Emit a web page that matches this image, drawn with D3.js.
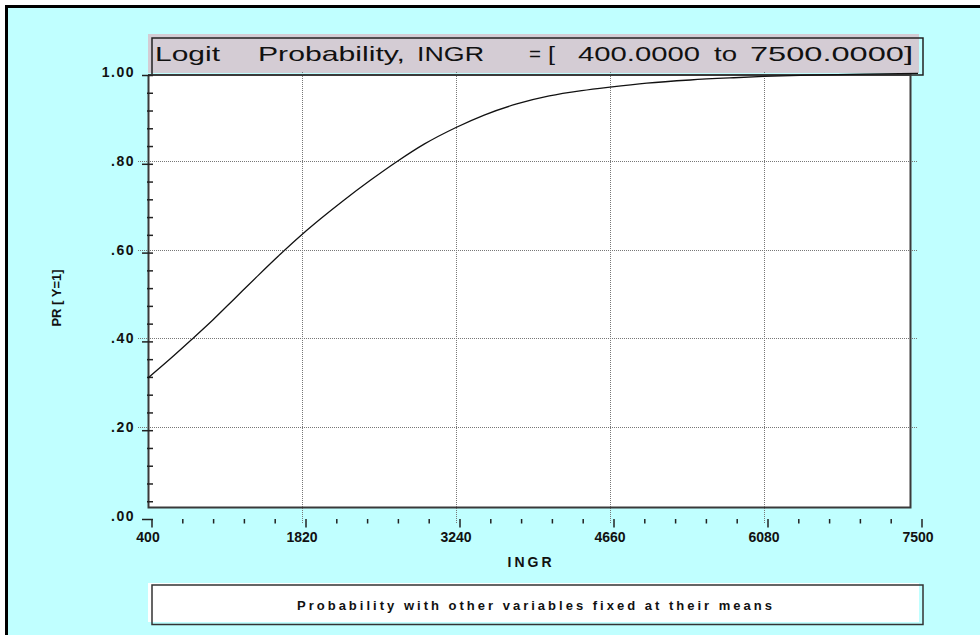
<!DOCTYPE html>
<html>
<head>
<meta charset="utf-8">
<script src="https://cdn.jsdelivr.net/npm/d3@7"></script>
<style>
  body { margin: 0; background: #fff; }
  svg { display: block; font-family: "Liberation Sans", Arial, sans-serif; }
</style>
</head>
<body>
<svg id="chart" width="980" height="635"></svg>
<script>
// values: INGR vs Prob[Y=1]
var ingr = [400, 600, 800, 1000, 1200, 1400, 1600, 1820, 2000, 2200, 2450, 2700, 2950,
            3240, 3500, 3800, 4100, 4400, 4660, 5000, 5400, 5800, 6080, 6500, 7000, 7500];
var prob = [.311, .353, .397, .442, .490, .538, .585, .634, .671, .710, .756, .799, .838,
            .875, .903, .928, .946, .958, .966, .975, .982, .987, .990, .993, .995, .997];

var xTicks = [400, 1820, 3240, 4660, 6080, 7500];
var yTicks = [0, .2, .4, .6, .8, 1];
var yLabels = [".00", ".20", ".40", ".60", ".80", "1.00"];
var titleParts = ["Logit", "Probability,", "INGR", "=", "[", "400.0000", "to", "7500.0000]"];
var yTitle = "PR [ Y=1]";
var xTitle = "INGR";
var footnote = "Probability with other variables fixed at their means";

var svg = d3.select("#chart");

// frame
svg.append("rect").attr("x", 0).attr("y", 0).attr("width", 980).attr("height", 635).attr("fill", "#fff");
svg.append("rect").attr("x", 6.5).attr("y", 6.5).attr("width", 990).attr("height", 650)
  .attr("fill", "#c0ffff").attr("stroke", "#000").attr("stroke-width", 3);

// scales: grid and curve use x/y, the tick marks sit a few px off (like the original)
var x = d3.scaleLinear().domain([400, 7500]).range([148, 918]);
var y = d3.scaleLinear().domain([0, 1]).range([516, 72]);
var xa = d3.scaleLinear().domain([400, 7500]).range([152, 922]);
var ya = d3.scaleLinear().domain([0, 1]).range([519.5, 75.5]);

// plot area
svg.append("rect").attr("x", 148).attr("y", 75).attr("width", 762).attr("height", 432)
  .attr("fill", "#fff");

// title box
svg.append("rect").attr("x", 148).attr("y", 34).attr("width", 771).attr("height", 39).attr("fill", "#d4ccd4");
svg.append("rect").attr("x", 152).attr("y", 38).attr("width", 771).attr("height", 37)
  .attr("fill", "none").attr("stroke", "#222").attr("stroke-width", 1.5);

var titlePos = [[155, 65], [258, 147], [417, 67], [529, 12], [548, 7], [578, 122], [714, 23], [750, 163]];
svg.append("g").selectAll("text").data(titleParts).enter().append("text")
  .attr("x", function(d, i) { return titlePos[i][0]; })
  .attr("y", 61)
  .attr("textLength", function(d, i) { return titlePos[i][1]; })
  .attr("lengthAdjust", "spacingAndGlyphs")
  .attr("font-size", 21)
  .attr("fill", "#111")
  .text(function(d) { return d; });

// grid
var grid = svg.append("g").attr("stroke", "#777").attr("stroke-width", 1).attr("stroke-dasharray", "1,1");
grid.selectAll("line.v").data(xTicks.slice(1, -1)).enter().append("line")
  .attr("x1", function(d) { return Math.round(x(d)) + 0.5; })
  .attr("x2", function(d) { return Math.round(x(d)) + 0.5; })
  .attr("y1", 72).attr("y2", 523);
grid.selectAll("line.h").data(yTicks.slice(1, -1)).enter().append("line")
  .attr("y1", function(d) { return Math.round(y(d)) + 0.5; })
  .attr("y2", function(d) { return Math.round(y(d)) + 0.5; })
  .attr("x1", 138).attr("x2", 918);

// plot border
svg.append("path").attr("d", "M148.5,75V507.5H910.5V75H148")
  .attr("fill", "none").attr("stroke", "#3a3a3a").attr("stroke-width", 2);

// y axis ticks
var yMinor = d3.range(0.04, 1, 0.04).filter(function(v) { return Math.abs(v * 5 - Math.round(v * 5)) > 0.01; });
svg.append("g").selectAll("line").data(yMinor).enter().append("line")
  .attr("x1", 147).attr("x2", 153)
  .attr("y1", function(d) { return ya(d); }).attr("y2", function(d) { return ya(d); })
  .attr("stroke", "#222").attr("stroke-width", 1.5);
svg.append("g").selectAll("line").data(yTicks).enter().append("line")
  .attr("x1", 142).attr("x2", 153)
  .attr("y1", function(d) { return ya(d); }).attr("y2", function(d) { return ya(d); })
  .attr("stroke", "#222").attr("stroke-width", 1.5);
svg.append("g").selectAll("text").data(yTicks).enter().append("text")
  .attr("x", 135).attr("y", function(d) { return y(d) + 5; })
  .attr("text-anchor", "end")
  .attr("font-size", 14).attr("font-weight", "bold").attr("letter-spacing", 1.5)
  .attr("fill", "#111")
  .text(function(d, i) { return yLabels[i]; });

// x axis ticks
var xMinor = d3.range(400, 7500, 284).filter(function(v) { return xTicks.indexOf(v) < 0; });
svg.append("g").selectAll("line").data(xMinor).enter().append("line")
  .attr("x1", function(d) { return xa(d); }).attr("x2", function(d) { return xa(d); })
  .attr("y1", 519).attr("y2", 523.5)
  .attr("stroke", "#222").attr("stroke-width", 1.5);
svg.append("g").selectAll("line").data(xTicks).enter().append("line")
  .attr("x1", function(d) { return xa(d); }).attr("x2", function(d) { return xa(d); })
  .attr("y1", 519).attr("y2", 527.5)
  .attr("stroke", "#222").attr("stroke-width", 1.5);
svg.append("g").selectAll("text").data(xTicks).enter().append("text")
  .attr("x", function(d) { return x(d); }).attr("y", 542)
  .attr("text-anchor", "middle")
  .attr("font-size", 14).attr("font-weight", "bold")
  .attr("fill", "#111")
  .text(function(d) { return d; });

// axis titles
svg.append("text")
  .attr("transform", "translate(61,298) rotate(-90)")
  .attr("text-anchor", "middle")
  .attr("font-size", 13).attr("font-weight", "bold").attr("fill", "#111")
  .text(yTitle);
svg.append("text")
  .attr("x", 531).attr("y", 567)
  .attr("text-anchor", "middle")
  .attr("font-size", 14).attr("font-weight", "bold").attr("letter-spacing", 3).attr("fill", "#111")
  .text(xTitle);

// curve
var line = d3.line()
  .x(function(d) { return x(d[0]); })
  .y(function(d) { return y(d[1]); })
  .curve(d3.curveMonotoneX);
svg.append("path")
  .datum(d3.zip(ingr, prob))
  .attr("d", line)
  .attr("fill", "none").attr("stroke", "#111").attr("stroke-width", 1.3);

// footnote box
svg.append("rect").attr("x", 148).attr("y", 583).attr("width", 771).attr("height", 39).attr("fill", "#fff");
svg.append("rect").attr("x", 152).attr("y", 585).attr("width", 771).attr("height", 39.5)
  .attr("fill", "none").attr("stroke", "#333").attr("stroke-width", 1.5);
svg.append("text")
  .attr("x", 297).attr("y", 610)
  .attr("textLength", 475).attr("lengthAdjust", "spacing")
  .attr("font-size", 13).attr("font-weight", "bold").attr("fill", "#111")
  .text(footnote);
</script>
</body>
</html>
